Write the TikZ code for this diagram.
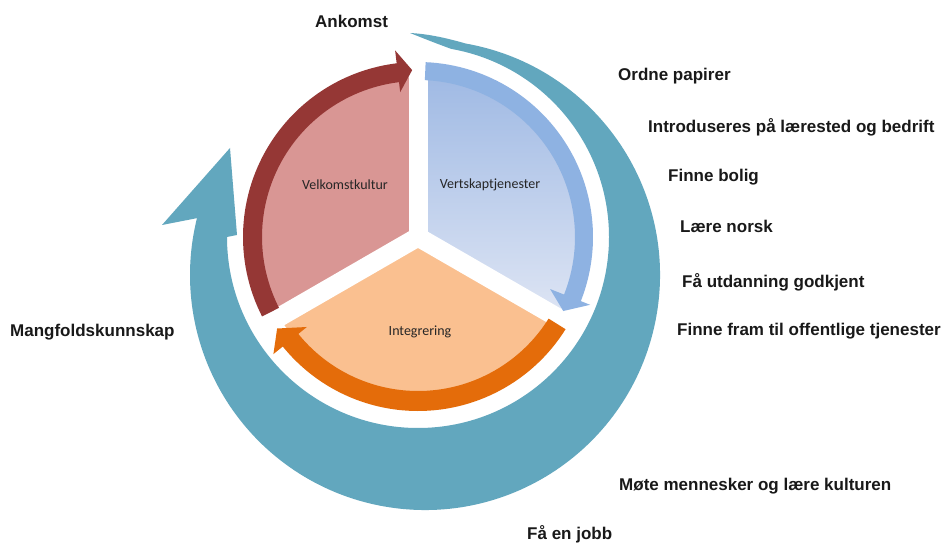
\documentclass[tikz,border=0pt]{standalone}
\usepackage{fontspec}
\setmainfont{Liberation Sans}
\newfontfamily\calib{Carlito}
\usetikzlibrary{calc}
\definecolor{tealarc}{RGB}{98,167,190}
\definecolor{redfill}{RGB}{217,150,148}
\definecolor{redarc}{RGB}{149,55,53}
\definecolor{bluearc}{RGB}{142,178,226}
\definecolor{bluetop}{RGB}{160,186,228}
\definecolor{bluebot}{RGB}{222,229,244}
\definecolor{orangefill}{RGB}{250,192,144}
\definecolor{orangearc}{RGB}{228,108,10}
\begin{document}
\begin{tikzpicture}[x=1pt,y=1pt,
  lbl/.style={font=\fontsize{17}{20}\selectfont\bfseries, text=black!90, anchor=base west, inner sep=0pt},
  seglbl/.style={font=\calib\fontsize{14}{16}\selectfont, text=black!85, inner sep=0pt},
  gapline/.style={draw=white, line width=19pt}]
\useasboundingbox (0,0) rectangle (944,544);
\fill[white] (0,0) rectangle (944,544);
\coordinate (C) at (418,307);
\coordinate (O2) at (425,269);
% big teal arrow (tapered start at the top)
\fill[tealarc] (410,511) .. controls (430,510) and (450,505) .. ($(O2)+(80:235)$)
  arc[start angle=80, end angle=-194, radius=235]
  -- (162,319) -- (230,396) -- (237,309)
  -- ($(C)+(180:191)$) arc[start angle=180, end angle=440, radius=191]
  .. controls (435,501) and (420,507) .. (410,511) -- cycle;
\begin{scope}[shift={(418,307)}]
  % sectors
  \fill[redfill] (0,0) -- (90:160) arc[start angle=90, end angle=210, radius=160] -- cycle;
  \shade[top color=bluetop, bottom color=bluebot] (0,0) -- (-30:160) arc[start angle=-30, end angle=90, radius=160] -- cycle;
  \fill[orangefill] (0,0) -- (210:160) arc[start angle=210, end angle=330, radius=160] -- cycle;
  % gaps
  \draw[gapline] (0,0) -- (90:185);
  \draw[gapline] (0,0) -- (210:185);
  \draw[gapline] (0,0) -- (330:185);
  % red arc arrow
  \fill[redarc] (207:175) arc[start angle=207, end angle=97, radius=175]
    -- (97:188) -- (92:167) -- (97:146) -- (97:156)
    arc[start angle=97, end angle=207, radius=156] -- cycle;
  % blue arc arrow
  \fill[bluearc] (87.5:175) arc[start angle=87.5, end angle=-21.5, radius=175]
    -- (-21.5:185) -- (-27:163) -- (-21.5:142) -- (-21.5:157)
    arc[start angle=-21.5, end angle=87.5, radius=157] -- cycle;
  % orange arc arrow
  \fill[orangearc] (-32:174) arc[start angle=-32, end angle=-141, radius=174]
    -- (-141:186) -- (-147:168) -- (-141:143) -- (-141:154)
    arc[start angle=-141, end angle=-32, radius=154] -- cycle;
\end{scope}
% segment labels
\node[seglbl] (velk) at (345,359) {Velkomstkultur};
\node[seglbl] (vert) at (490,359) {Vertskaptjenester};
\node[seglbl] (integ) at (420,212) {Integrering};
% outer labels
\node[lbl] (ankomst) at (315,516) {Ankomst};
\node[lbl] (ordne) at (618,463) {Ordne papirer};
\node[lbl] (intro) at (648,411) {Introduseres på lærested og bedrift};
\node[lbl] (bolig) at (668,362) {Finne bolig};
\node[lbl] (norsk) at (680,311) {Lære norsk};
\node[lbl] (utd) at (682,257) {Få utdanning godkjent};
\node[lbl] (off) at (677,209) {Finne fram til offentlige tjenester};
\node[lbl] (mang) at (10,208) {Mangfoldskunnskap};
\node[lbl] (mote) at (619,54) {Møte mennesker og lære kulturen};
\node[lbl] (jobb) at (527,5) {Få en jobb};
\end{tikzpicture}
\end{document}
